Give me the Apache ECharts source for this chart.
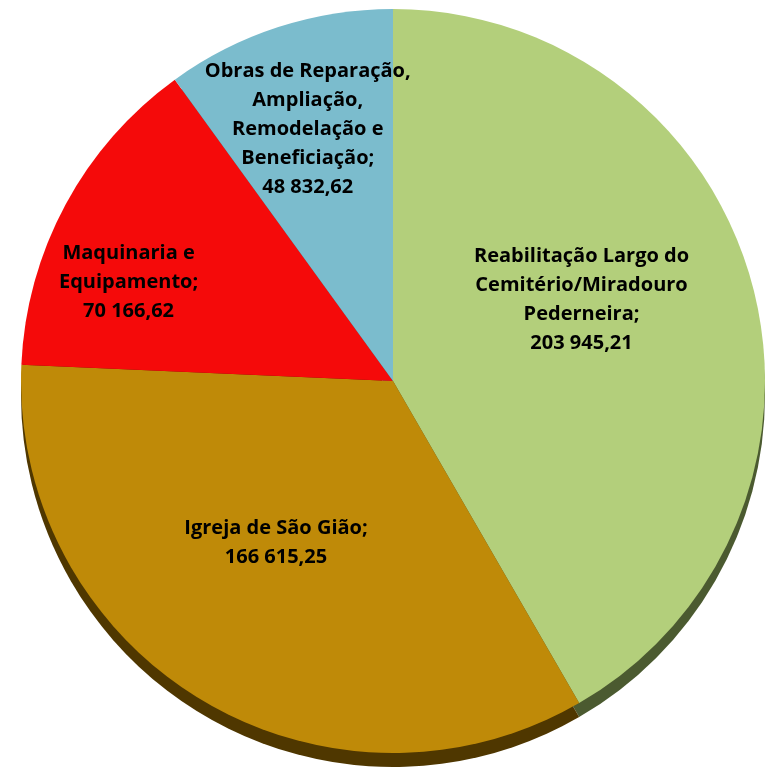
<!DOCTYPE html>
<html>
<head>
<meta charset="utf-8">
<script src="https://cdn.jsdelivr.net/npm/echarts@6/dist/echarts.min.js"></script>
<style>
  html, body { margin: 0; padding: 0; background: #fff; }
  #pie-chart { width: 765px; height: 768px; }
</style>
</head>
<body>
<div id="pie-chart"></div>
<script>
// categories, clockwise from 12 o'clock
var categories = [
    'Reabilitação Largo do\nCemitério/Miradouro\nPederneira',
    'Igreja de São Gião',
    'Maquinaria e\nEquipamento',
    'Obras de Reparação,\nAmpliação,\nRemodelação e\nBeneficiação'
];
var values = [203945.21, 166615.25, 70166.62, 48832.62];

var topColors = ['#b3cf7b', '#bf8a08', '#f50a0a', '#7bbccd'];
var sideColors = ['#4b5a30', '#4f3700', '#7a0505', '#3d5e66'];
// nudges of the labels away from the default mid-radius spot
var labelOffsets = [[6, -32], [-19, 0], [-98, -9], [-27, -72]];

function fmt(v) {
    var parts = v.toFixed(2).split('.');
    return parts[0].replace(/\B(?=(\d{3})+(?!\d))/g, ' ') + ',' + parts[1];
}

var myChart = echarts.init(document.getElementById('pie-chart'));

var topData = categories.map(function (c, i) {
    return {
        name: c,
        value: values[i],
        itemStyle: { color: topColors[i] },
        label: { offset: labelOffsets[i] }
    };
});
var sideData = categories.map(function (c, i) {
    return { name: c, value: values[i], itemStyle: { color: sideColors[i] } };
});

var option = {
    animation: false,
    series: [
        {
            // side wall, drawn a little lower
            type: 'pie',
            silent: true,
            z: 1,
            center: [393, 395],
            radius: 372,
            startAngle: 90,
            clockwise: true,
            label: { show: false },
            labelLine: { show: false },
            itemStyle: { borderWidth: 0 },
            data: sideData
        },
        {
            type: 'pie',
            z: 2,
            center: [393, 381],
            radius: 372,
            startAngle: 90,
            clockwise: true,
            itemStyle: { borderWidth: 0 },
            emphasis: { disabled: true },
            label: {
                show: true,
                position: 'inside',
                color: '#000',
                fontFamily: 'Open Sans',
                fontWeight: 'bold',
                fontSize: 20,
                lineHeight: 29,
                align: 'center',
                formatter: function (p) {
                    return p.name + ';\n' + fmt(p.value);
                }
            },
            labelLine: { show: false },
            data: topData
        }
    ]
};

myChart.setOption(option);
</script>
</body>
</html>
